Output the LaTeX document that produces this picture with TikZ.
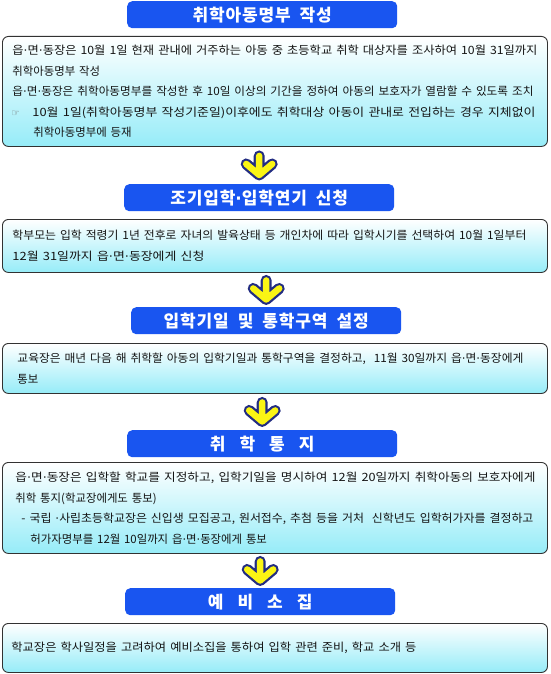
\documentclass[tikz,border=0pt]{standalone}
\usepackage{fontspec}
\usepackage{graphicx}
\setmainfont{Noto Sans CJK KR}
\newfontfamily\dejavu{DejaVu Sans}
\newfontfamily\hfont{Noto Sans CJK KR}[LetterSpace=5]
\usetikzlibrary{calc}
\definecolor{hblue}{RGB}{25,85,240}
\definecolor{boxcyan}{RGB}{150,236,248}
\definecolor{boxline}{RGB}{50,50,50}
\definecolor{txt}{RGB}{20,20,20}
\definecolor{arrline}{RGB}{35,45,130}
\definecolor{arrfill}{RGB}{250,245,20}
\newcommand\md{{\dejavu ·}}
\newcommand\fitw[2]{\resizebox{#1}{\height}{#2}}
\newcommand\bodyfont{\fontsize{11.4}{20.5}\selectfont\spaceskip=5.5pt\relax}
\newcommand\headfont{\hfont\bfseries\fontsize{17}{19}\selectfont\spaceskip=9pt\relax}
\newcommand\wideheadfont{\hfont\bfseries\fontsize{17}{19}\selectfont\spaceskip=14pt\relax}
\tikzset{
  cbox/.style={draw=boxline, line width=0.9pt, rounded corners=6pt,
    top color=white, bottom color=boxcyan, anchor=north west,
    align=left, text width=525pt, inner xsep=10pt, inner ysep=0pt,
    font=\bodyfont, text=txt},
  hbox/.style={fill=hblue, rounded corners=5pt, anchor=north west,
    minimum width=270pt, minimum height=27pt, inner sep=0pt, text=white,
    font=\headfont},
}
\newcommand\yarrow[1]{%
  \foreach \col/\wd in {arrline/11pt, arrfill/6.5pt}{%
    \draw[color=\col, line width=\wd, line cap=round, line join=round]
      ($(#1)+(0,-9.5)$) -- ($(#1)+(0,8)$)
      ($(#1)+(-13,-1.5)$) -- ($(#1)+(0,9.5)$) -- ($(#1)+(13,-1.5)$);
  }%
}
\begin{document}
\begin{tikzpicture}[x=1pt,y=-1pt]
\useasboundingbox[fill=white] (0,0) rectangle (550,674);

\node[hbox] (H1) at (127,1) {취학아동명부 작성};
\node[cbox, minimum height=110pt] (B1) at (2,36) {%
\fitw{525pt}{읍\md 면\md 동장은 10월 1일 현재 관내에 거주하는 아동 중 초등학교 취학 대상자를 조사하여 10월 31일까지}\\
취학아동명부 작성\\
\fitw{521pt}{읍\md 면\md 동장은 취학아동명부를 작성한 후 10일 이상의 기간을 정하여 아동의 보호자가 열람할 수 있도록 조치}\\
\makebox[20pt][l]{\hspace{-1pt}{\dejavu\fontsize{9.5}{9.5}\selectfont\color[RGB]{110,110,110}☞}}\fitw{503pt}{10월 1일(취학아동명부 작성기준일)이후에도 취학대상 아동이 관내로 전입하는 경우 지체없이}\\
\hspace*{21pt}취학아동명부에 등재};

\node[hbox] (H2) at (124,184) {조기입학\md 입학연기 신청};
\node[cbox, minimum height=53pt] (B2) at (2,219) {%
\fitw{514pt}{학부모는 입학 적령기 1년 전후로 자녀의 발육상태 등 개인차에 따라 입학시기를 선택하여 10월 1일부터}\\
\fitw{192pt}{12월 31일까지 읍\md 면\md 동장에게 신청}};

\node[hbox] (H3) at (131,307) {입학기일 및 통학구역 설정};
\node[cbox, minimum height=50pt, inner xsep=15pt, text width=515pt] (B3) at (2,343) {%
\fitw{506pt}{교육장은 매년 다음 해 취학할 아동의 입학기일과 통학구역을 결정하고,~ 11월 30일까지 읍\md 면\md 동장에게}\\
통보};

\node[hbox, font=\wideheadfont] (H4) at (127,430) {취 학 통 지};
\node[cbox, minimum height=91pt, inner xsep=13pt, text width=519pt] (B4) at (2,462) {%
\fitw{520pt}{읍\md 면\md 동장은 입학할 학교를 지정하고, 입학기일을 명시하여 12월 20일까지 취학아동의 보호자에게}\\
취학 통지(학교장에게도 통보)\\
\hspace*{6pt}\fitw{512pt}{- 국립 \md 사립초등학교장은 신입생 모집공고, 원서접수, 추첨 등을 거처~ 신학년도 입학허가자를 결정하고}\\
\hspace*{15pt}허가자명부를 12월 10일까지 읍\md 면\md 동장에게 통보};

\node[hbox, font=\wideheadfont] (H5) at (125,588) {예 비 소 집};
\node[cbox, minimum height=49pt, inner xsep=9pt, text width=527pt] (B5) at (2,623) {%
\fitw{405pt}{학교장은 학사일정을 고려하여 예비소집을 통하여 입학 관련 준비, 학교 소개 등}};

\yarrow{$(B1.south -| H2.north)!0.5!(H2.north)$}
\yarrow{$(B2.south -| H3.north)!0.5!(H3.north)$}
\yarrow{$(B3.south -| H4.north)!0.5!(H4.north)$}
\yarrow{$(B4.south -| H5.north)!0.5!(H5.north)$}
\end{tikzpicture}
\end{document}
